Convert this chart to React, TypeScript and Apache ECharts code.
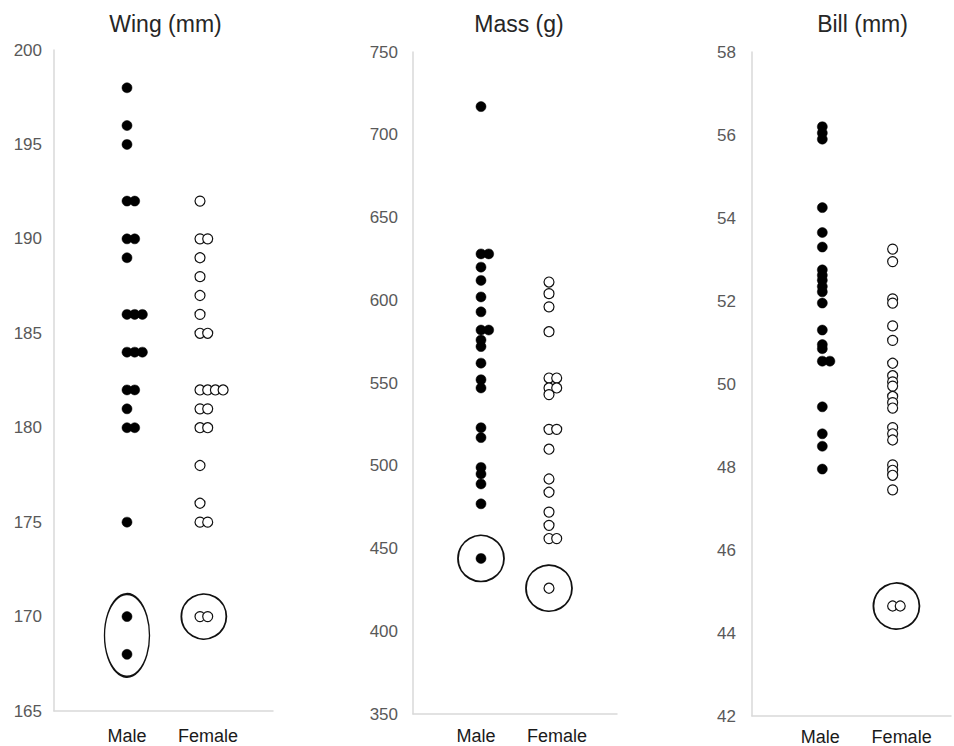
import React, { useEffect, useRef } from 'react';
import * as echarts from 'echarts';

// ---------- data ----------
const categories = ['Male', 'Female'];
const titles = ['Wing (mm)', 'Mass (g)', 'Bill (mm)'];

const wingMale = [198, 196, 195, 192, 192, 190, 190, 189, 186, 186, 186, 184, 184, 184, 182, 182, 181, 180, 180, 175, 170, 168];
const wingFemale = [192, 190, 190, 189, 188, 187, 186, 185, 185, 182, 182, 182, 182, 181, 181, 180, 180, 178, 176, 175, 175, 170, 170];

const massMale = [717, 628, 628, 620, 612, 602, 593, 582, 582, 576, 572, 562, 552, 547, 523, 517, 499, 495, 489, 477, 444];
const massFemale = [611, 604, 596, 581, 553, 553, 547, 547, 543, 522, 522, 510, 492, 484, 472, 464, 456, 456, 426];

const billMale = [56.2, 56.05, 55.9, 54.25, 53.65, 53.3, 52.75, 52.62, 52.5, 52.35, 52.22, 51.95, 51.3, 50.95, 50.85, 50.55, 50.55, 49.45, 48.8, 48.5, 47.95];
const billFemale = [53.25, 52.95, 52.05, 51.95, 51.4, 51.05, 50.5, 50.2, 50.05, 49.95, 49.7, 49.55, 49.42, 48.95, 48.8, 48.65, 48.05, 47.92, 47.8, 47.45, 44.65, 44.65];

// encircled outliers: category + the values they enclose
const wingRings = [{ cat: 'Male', values: [170, 168] }, { cat: 'Female', values: [170] }];
const massRings = [{ cat: 'Male', values: [444] }, { cat: 'Female', values: [426] }];
const billRings = [{ cat: 'Female', values: [44.65] }];

const wingTicks = { min: 165, max: 200, interval: 5 };
const massTicks = { min: 350, max: 750, interval: 50 };
const billTicks = { min: 42, max: 58, interval: 2 };

// ---------- layout / style ----------
const panels = [
  { title: titles[0], male: wingMale, female: wingFemale, rings: wingRings, ticks: wingTicks,
    titleX: 160.5, grid: { left: 54, top: 50, width: 219, height: 661 }, xMax: 3,
    labelShift: [0, 8], labelMargin: 16, yLabelMargin: 12, ringW: 45 },
  { title: titles[1], male: massMale, female: massFemale, rings: massRings, ticks: massTicks,
    titleX: 514, grid: { left: 413, top: 52, width: 204, height: 662 }, xMax: 3,
    labelShift: [-5, 8], labelMargin: 13, yLabelMargin: 15, ringW: 46 },
  { title: titles[2], male: billMale, female: billFemale, rings: billRings, ticks: billTicks,
    titleX: 857.5, grid: { left: 752, top: 52, width: 202, height: 664 }, xMax: 2.83,
    labelShift: [-2, 9], labelMargin: 12, yLabelMargin: 16, ringW: 46 },
];

const DODGE_PX = 7.7;
const AXIS_COLOR = '#d9d9d9';
const FONT = 'Liberation Sans, Arial, sans-serif';

function dodge(values: number[], cat: number, unit: number) {
  const seen = new Map<number, number>();
  return values.map((v) => {
    const k = seen.get(v) ?? 0;
    seen.set(v, k + 1);
    return [cat + k * unit, v];
  });
}

function shiftPad(s: number) {
  return s >= 0 ? [0, 0, 0, 2 * s] : [0, -2 * s, 0, 0];
}

function buildOption() {
  const grid: any[] = [];
  const xAxis: any[] = [];
  const yAxis: any[] = [];
  const series: any[] = [];
  const title: any[] = [];

  panels.forEach((p, i) => {
    const pxPerX = p.grid.width / p.xMax;
    const pxPerY = p.grid.height / (p.ticks.max - p.ticks.min);
    const unit = DODGE_PX / pxPerX;

    title.push({
      text: p.title, left: p.titleX, top: 7, textAlign: 'center',
      textStyle: { fontFamily: FONT, fontSize: 23, fontWeight: 'normal', color: '#262626' },
    });
    grid.push({ ...p.grid });
    xAxis.push({
      type: 'value', gridIndex: i, min: 0, max: p.xMax, interval: 1,
      axisLine: { show: true, onZero: false, lineStyle: { color: AXIS_COLOR, width: 1.5 } },
      axisTick: { show: false }, splitLine: { show: false },
      axisLabel: {
        margin: p.labelMargin, showMinLabel: true, showMaxLabel: true,
        formatter: (v: number) => (Math.abs(v - 1) < 1e-6 ? `{m|${categories[0]}}` : Math.abs(v - 2) < 1e-6 ? `{f|${categories[1]}}` : ''),
        rich: {
          m: { fontFamily: FONT, fontSize: 18, color: '#1a1a1a', padding: shiftPad(p.labelShift[0]) },
          f: { fontFamily: FONT, fontSize: 18, color: '#1a1a1a', padding: shiftPad(p.labelShift[1]) },
        },
      },
    });
    yAxis.push({
      type: 'value', gridIndex: i, min: p.ticks.min, max: p.ticks.max, interval: p.ticks.interval,
      axisLine: { show: true, lineStyle: { color: AXIS_COLOR, width: 1.5 } },
      axisTick: { show: false }, splitLine: { show: false },
      axisLabel: { margin: p.yLabelMargin, color: '#595959', fontSize: 17, fontFamily: FONT },
    });

    series.push({
      type: 'scatter', xAxisIndex: i, yAxisIndex: i, symbol: 'circle', symbolSize: 10,
      itemStyle: { color: '#000', borderColor: '#000', borderWidth: 0.5, opacity: 1 },
      data: dodge(p.male, 1, unit), silent: true, z: 3,
    });
    series.push({
      type: 'scatter', xAxisIndex: i, yAxisIndex: i, symbol: 'circle', symbolSize: 10,
      itemStyle: { color: '#fff', borderColor: '#111', borderWidth: 1.2, opacity: 1 },
      data: dodge(p.female, 2, unit), silent: true, z: 3,
    });

    const ringData = p.rings.map((r) => {
      const catX = categories.indexOf(r.cat) + 1;
      const src = r.cat === categories[0] ? p.male : p.female;
      const dup = Math.max(...r.values.map((v) => src.filter((s) => s === v).length));
      const cy = r.values.reduce((a, b) => a + b, 0) / r.values.length;
      const span = Math.max(...r.values) - Math.min(...r.values);
      return {
        value: [catX + ((dup - 1) * unit) / 2, cy],
        symbolSize: [p.ringW, p.ringW + span * pxPerY],
      };
    });
    series.push({
      type: 'scatter', xAxisIndex: i, yAxisIndex: i, symbol: 'circle',
      itemStyle: { color: 'rgba(0,0,0,0)', borderColor: '#111', borderWidth: 1.8, opacity: 1 },
      data: ringData, silent: true, z: 2,
    });
  });

  return { animation: false, backgroundColor: '#fff', title, grid, xAxis, yAxis, series };
}

export default function App() {
  const ref = useRef<HTMLDivElement>(null);
  useEffect(() => {
    if (!ref.current) return;
    const chart = echarts.init(ref.current, undefined, { renderer: 'svg' });
    chart.setOption(buildOption() as any);
    return () => chart.dispose();
  }, []);
  return <div ref={ref} style={{ position: 'fixed', left: 0, top: 0, width: 954, height: 746, background: '#fff' }} />;
}
